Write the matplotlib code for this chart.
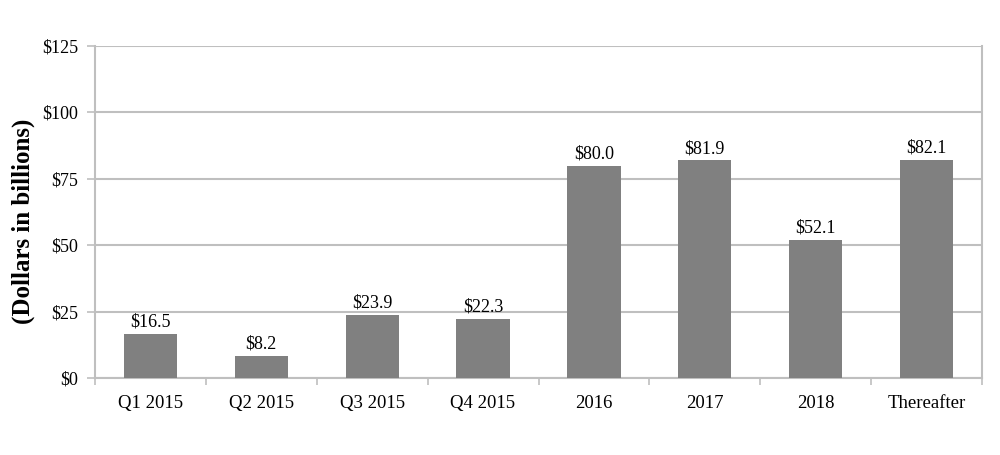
import matplotlib
matplotlib.use("Agg")
import matplotlib.pyplot as plt
import numpy as np

categories = ["Q1 2015", "Q2 2015", "Q3 2015", "Q4 2015", "2016", "2017", "2018", "Thereafter"]
values = [16.5, 8.2, 23.9, 22.3, 80.0, 81.9, 52.1, 82.1]
yticks = [0, 25, 50, 75, 100, 125]

plt.rcParams['font.family'] = ['Liberation Serif', 'DejaVu Serif']

fig = plt.figure(figsize=(10, 4.55), dpi=100)
ax = fig.add_axes([0.095, 0.169, 0.887, 0.730])

grid_c = "#bfbfbf"
x = np.arange(len(categories))
ax.bar(x, values, width=0.48, color="#808080", zorder=3)
for xi, v in zip(x, values):
    ax.text(xi, v + 1.3, f"${v:.1f}", ha="center", va="bottom", fontsize=13, zorder=4)

ax.set_xlim(-0.5, len(categories) - 0.5)
ax.set_ylim(0, 125)
ax.set_yticks(yticks)
ax.set_yticklabels([f"${t}" for t in yticks], fontsize=13)
ax.set_xticks(x)
ax.set_xticklabels(categories, fontsize=13.5)
ax.set_xticks(np.arange(len(categories) + 1) - 0.5, minor=True)
ax.tick_params(axis="x", which="major", length=0, pad=12)
ax.tick_params(axis="x", which="minor", length=5, color=grid_c, width=1.2)
ax.tick_params(axis="y", length=6, color=grid_c, width=1.2, pad=6)

ax.yaxis.grid(True, color=grid_c, linewidth=1.5, zorder=0)
for s in ["left", "right", "bottom"]:
    ax.spines[s].set_color(grid_c)
    ax.spines[s].set_linewidth(1.5)
ax.spines["top"].set_visible(False)

ax.set_ylabel("(Dollars in billions)", fontsize=18, fontweight="bold")
ax.yaxis.set_label_coords(-0.068, 0.473)

fig.savefig("out.png", dpi=100)
